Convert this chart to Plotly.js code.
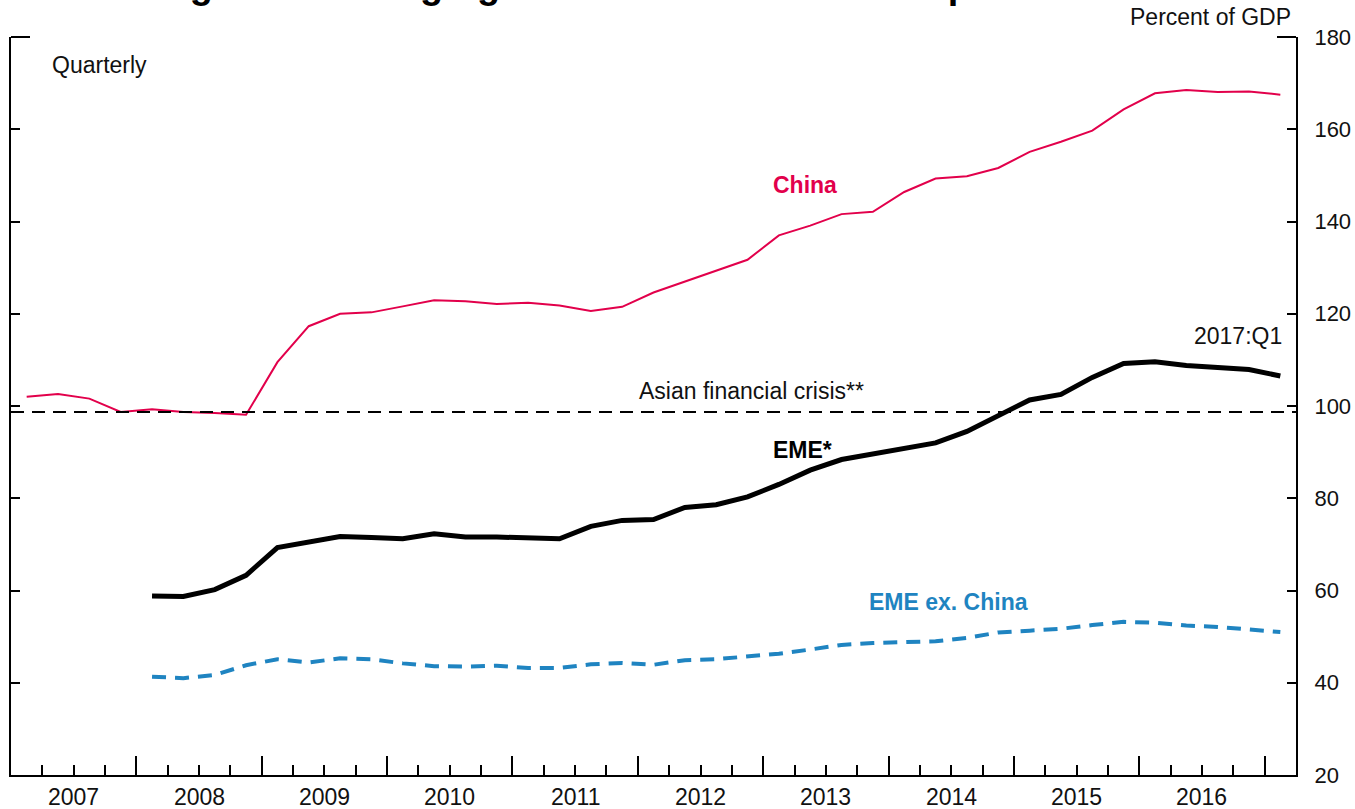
<!DOCTYPE html>
<html>
<head>
<meta charset="utf-8">
<script src="https://cdn.plot.ly/plotly-3.0.1.min.js"></script>
<style>html,body{margin:0;padding:0;background:#fff;}#chart{width:1355px;height:809px;}</style>
</head>
<body>
<div id="chart"></div>
<script>
// ---- data (percent of GDP, quarterly) ----
const quarters = [
  "2007:Q1","2007:Q2","2007:Q3","2007:Q4",
  "2008:Q1","2008:Q2","2008:Q3","2008:Q4",
  "2009:Q1","2009:Q2","2009:Q3","2009:Q4",
  "2010:Q1","2010:Q2","2010:Q3","2010:Q4",
  "2011:Q1","2011:Q2","2011:Q3","2011:Q4",
  "2012:Q1","2012:Q2","2012:Q3","2012:Q4",
  "2013:Q1","2013:Q2","2013:Q3","2013:Q4",
  "2014:Q1","2014:Q2","2014:Q3","2014:Q4",
  "2015:Q1","2015:Q2","2015:Q3","2015:Q4",
  "2016:Q1","2016:Q2","2016:Q3","2016:Q4",
  "2017:Q1"
];
const china = [
  102.0, 102.6, 101.6, 98.7,
  99.3, 98.7, 98.5, 98.1,
  109.5, 117.3, 120.0, 120.3,
  121.6, 122.9, 122.7, 122.1,
  122.4, 121.8, 120.6, 121.5,
  124.6, 127.0, 129.4, 131.7,
  137.0, 139.1, 141.6, 142.1,
  146.4, 149.3, 149.8, 151.6,
  155.1, 157.3, 159.7, 164.3,
  167.8, 168.5, 168.1, 168.2,
  167.5
];
const emeStart = "2008:Q1";
const eme = [
  58.8, 58.7, 60.2, 63.3,
  69.3, 70.5, 71.7, 71.5,
  71.2, 72.3, 71.6, 71.6,
  71.4, 71.2, 73.9, 75.2,
  75.4, 78.0, 78.6, 80.3,
  83.0, 86.1, 88.4, 89.6,
  91.0, 92.0, 94.5, 98.0,
  101.3, 102.5, 106.2, 109.2,
  109.6, 108.8, 108.3, 107.9,
  106.5
];
const emeExChina = [
  41.3, 41.0, 41.7, 43.8,
  45.1, 44.4, 45.3, 45.1,
  44.2, 43.6, 43.5, 43.7,
  43.2, 43.2, 44.0, 44.3,
  43.9, 44.9, 45.1, 45.6,
  46.3, 47.2, 48.2, 48.6,
  48.8, 49.0, 49.7, 50.9,
  51.3, 51.7, 52.5, 53.2,
  53.0, 52.4, 52.1, 51.5,
  51.0
];
const asianCrisisLevel = 98.7;
const yearLabels = ["2007","2008","2009","2010","2011","2012","2013","2014","2015","2016"];
const yearBoundaries = [2007,2008,2009,2010,2011,2012,2013,2014,2015,2016,2017];
const yTicks = [20,40,60,80,100,120,140,160,180];

// ---- helpers ----
function qpos(s){ const p = s.split(":Q"); return Number(p[0]) + (Number(p[1]) - 0.5) / 4; }
const xAll = quarters.map(qpos);
const emeQuarters = quarters.slice(quarters.indexOf(emeStart));
const xEme = emeQuarters.map(qpos);

const FONT = "Arial, 'Liberation Sans', sans-serif";
const RED = "#e2004b";
const BLUE = "#1f84c1";

const traces = [
  {x: xAll, y: china, mode: "lines", line: {color: RED, width: 2}, hoverinfo: "skip"},
  {x: xEme, y: eme, mode: "lines", line: {color: "#000", width: 5}, hoverinfo: "skip"},
  {x: xEme, y: emeExChina, mode: "lines", line: {color: BLUE, width: 4, dash: "14px,9px"}, hoverinfo: "skip"}
];

const annotations = [
  {xref:"paper", yref:"paper", x:0.5, y:1.071, xanchor:"center", yanchor:"middle", showarrow:false,
   text:"<b>Figure 5. Emerging Market Nonfinancial Corporate Debt</b>", font:{family:FONT, size:38, color:"#000"}, xshift:4},
  {xref:"paper", yref:"paper", x:0.9977, y:1.027, xanchor:"right", yanchor:"middle", showarrow:false,
   text:"Percent of GDP", font:{family:FONT, size:23, color:"#111"}},
  {xref:"paper", yref:"paper", x:0.0301, y:0.962, xanchor:"left", yanchor:"middle", showarrow:false,
   text:"Quarterly", font:{family:FONT, size:23, color:"#111"}},
  {xref:"x", yref:"y", x:2013.33, y:147.9, xanchor:"center", yanchor:"middle", showarrow:false,
   text:"<b>China</b>", font:{family:FONT, size:23, color:RED}},
  {xref:"x", yref:"y", x:2013.31, y:90.4, xanchor:"center", yanchor:"middle", showarrow:false,
   text:"<b>EME*</b>", font:{family:FONT, size:23, color:"#000"}},
  {xref:"x", yref:"y", x:2014.48, y:57.5, xanchor:"center", yanchor:"middle", showarrow:false,
   text:"<b>EME ex. China</b>", font:{family:FONT, size:23, color:BLUE}},
  {xref:"x", yref:"y", x:2012.906, y:103.2, xanchor:"center", yanchor:"middle", showarrow:false,
   text:"Asian financial crisis**", font:{family:FONT, size:23, color:"#111"}},
  {xref:"x", yref:"y", x:2016.79, y:115.2, xanchor:"center", yanchor:"middle", showarrow:false,
   text:"2017:Q1", font:{family:FONT, size:23, color:"#111"}}
];
yearLabels.forEach(function(lbl){
  annotations.push({xref:"x", yref:"paper", x:Number(lbl) + 0.5, y:0, xanchor:"center", yanchor:"middle",
    yshift:-21.5, showarrow:false, text:lbl, font:{family:FONT, size:23, color:"#111"}});
});

const shapes = [
  {type:"line", xref:"paper", yref:"y", x0:0, x1:1, y0:asianCrisisLevel, y1:asianCrisisLevel,
   line:{color:"#000", width:2, dash:"13px,8px"}},
  {type:"line", xref:"paper", yref:"paper", x0:0, x1:19/1285, y0:1, y1:1, line:{color:"#000", width:2}},
  {type:"line", xref:"paper", yref:"paper", x0:1-19/1285, x1:1, y0:1, y1:1, line:{color:"#000", width:2}}
];

const layout = {
  width: 1355, height: 809,
  margin: {l: 11, r: 59, t: 37, b: 34, pad: 0},
  paper_bgcolor: "#fff", plot_bgcolor: "#fff",
  showlegend: false,
  font: {family: FONT, size: 22, color: "#111"},
  xaxis: {
    range: [2007, 2017.25], tickmode: "array", tickvals: yearBoundaries,
    ticks: "inside", ticklen: 19, tickwidth: 2, tickcolor: "#000",
    showticklabels: false, showline: true, linecolor: "#000", linewidth: 2,
    showgrid: false, zeroline: false, fixedrange: true,
    minor: {tickmode: "linear", tick0: 2007, dtick: 0.25, ticks: "inside", ticklen: 10,
            tickwidth: 2, tickcolor: "#000", showgrid: false}
  },
  yaxis: {
    range: [20, 180], side: "right", tickmode: "array", tickvals: yTicks,
    ticks: "inside", ticklen: 9, tickwidth: 2, tickcolor: "#000",
    showline: true, linecolor: "#000", linewidth: 2, mirror: "ticks",
    showgrid: false, zeroline: false, fixedrange: true,
    tickfont: {family: FONT, size: 22, color: "#111"}, ticklabelstandoff: 12
  },
  annotations: annotations,
  shapes: shapes
};

Plotly.newPlot("chart", traces, layout, {staticPlot: true, displayModeBar: false});
</script>
</body>
</html>
